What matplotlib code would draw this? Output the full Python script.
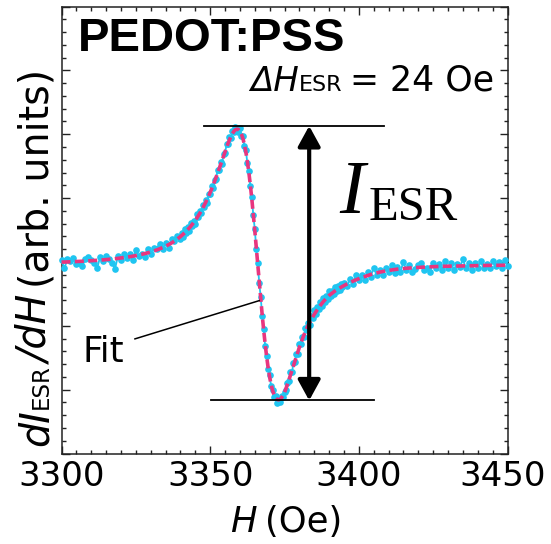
import numpy as np
import matplotlib
matplotlib.use("Agg")
import matplotlib.pyplot as plt
from matplotlib.ticker import MultipleLocator
from matplotlib.transforms import IdentityTransform, ScaledTranslation

W, H = 551, 544

# ---------------- data ----------------
field_left = np.arange(3300, 3341, 1.0)          # 41 points
field_mid = np.arange(3340.5, 3395.01, 0.5)      # 110 points
field_right = np.arange(3396, 3451, 1.0)         # 55 points
field = np.concatenate([field_left, field_mid, field_right])

signal_left = [0.03, -0.10, 0.05, 0.01, 0.06, -0.04, -0.02, -0.07, 0.05, 0.08,
               0.03, -0.02, -0.10, 0.08, 0.02, 0.10, 0.05, -0.01, -0.11, 0.10,
               0.03, 0.13, 0.06, 0.13, 0.03, 0.18, 0.09, 0.12, 0.08, 0.20,
               0.13, 0.22, 0.21, 0.28, 0.21, 0.29, 0.22, 0.36, 0.32, 0.41,
               0.36]
signal_mid = [0.45, 0.39, 0.52, 0.46, 0.55, 0.49, 0.61, 0.56, 0.64, 0.60,
              0.75, 0.70, 0.79, 0.76, 0.89, 0.86, 0.97, 0.93, 1.06, 1.07,
              1.19, 1.16, 1.29, 1.30, 1.44, 1.44, 1.56, 1.54, 1.69, 1.70,
              1.84, 1.84, 1.95, 1.94, 2.05, 2.03, 2.12, 2.10, 2.04, 2.09,
              1.97, 1.97, 1.82, 1.75, 1.55, 1.43, 1.19, 1.02, 0.73, 0.52,
              0.20, -0.02, -0.33, -0.55, -0.85, -1.05, -1.32, -1.47, -1.68, -1.77,
              -1.95, -2.00, -2.12, -2.10, -2.21, -2.14, -2.19, -2.10, -2.12, -2.03,
              -2.01, -1.89, -1.87, -1.73, -1.73, -1.59, -1.57, -1.44, -1.44, -1.29,
              -1.29, -1.17, -1.18, -1.04, -1.06, -0.95, -0.99, -0.85, -0.88, -0.76,
              -0.81, -0.71, -0.74, -0.63, -0.69, -0.57, -0.62, -0.53, -0.58, -0.46,
              -0.53, -0.45, -0.51, -0.39, -0.46, -0.37, -0.44, -0.34, -0.40, -0.33]
signal_right = [-0.38, -0.27, -0.34, -0.21, -0.28, -0.20, -0.28, -0.15, -0.23, -0.09,
                -0.21, -0.13, -0.21, -0.09, -0.15, -0.05, -0.17, -0.08, -0.15, 0.00,
                -0.13, -0.05, -0.15, -0.11, -0.05, -0.01, -0.13, -0.09, -0.15, -0.01,
                -0.09, -0.03, -0.12, 0.01, -0.10, -0.02, -0.12, -0.03, -0.08, 0.04,
                -0.10, -0.01, -0.12, -0.02, -0.09, 0.01, -0.10, -0.04, -0.10, 0.01,
                -0.07, 0.00, -0.09, 0.03, -0.06]
signal = np.array(signal_left + signal_mid + signal_right)

fit_left = [-0.003, -0.002, 0.000, 0.002, 0.004, 0.006, 0.008, 0.011, 0.013, 0.016,
            0.019, 0.022, 0.025, 0.029, 0.032, 0.036, 0.041, 0.045, 0.050, 0.056,
            0.062, 0.068, 0.075, 0.082, 0.090, 0.099, 0.108, 0.119, 0.130, 0.142,
            0.156, 0.171, 0.187, 0.205, 0.225, 0.246, 0.270, 0.297, 0.327, 0.360,
            0.396]
fit_mid = [0.416, 0.437, 0.459, 0.482, 0.507, 0.533, 0.560, 0.589, 0.620, 0.652,
           0.686, 0.722, 0.760, 0.800, 0.843, 0.887, 0.934, 0.983, 1.034, 1.088,
           1.144, 1.203, 1.263, 1.326, 1.391, 1.457, 1.524, 1.592, 1.660, 1.727,
           1.792, 1.855, 1.913, 1.965, 2.010, 2.046, 2.070, 2.080, 2.074, 2.049,
           2.003, 1.935, 1.841, 1.723, 1.577, 1.406, 1.209, 0.990, 0.751, 0.497,
           0.231, -0.040, -0.311, -0.577, -0.831, -1.070, -1.289, -1.486, -1.657, -1.803,
           -1.921, -2.015, -2.083, -2.129, -2.154, -2.160, -2.150, -2.126, -2.090, -2.045,
           -1.983, -1.916, -1.845, -1.772, -1.697, -1.623, -1.549, -1.477, -1.407, -1.338,
           -1.271, -1.208, -1.147, -1.089, -1.039, -0.991, -0.946, -0.902, -0.861, -0.821,
           -0.784, -0.749, -0.715, -0.684, -0.654, -0.625, -0.598, -0.573, -0.549, -0.525,
           -0.507, -0.488, -0.471, -0.454, -0.438, -0.423, -0.409, -0.396, -0.383, -0.371]
fit_right = [-0.345, -0.322, -0.301, -0.281, -0.262, -0.244, -0.228, -0.212, -0.197, -0.184,
             -0.172, -0.160, -0.150, -0.141, -0.133, -0.126, -0.119, -0.113, -0.108, -0.103,
             -0.099, -0.095, -0.092, -0.089, -0.086, -0.083, -0.080, -0.078, -0.076, -0.074,
             -0.072, -0.070, -0.069, -0.068, -0.066, -0.065, -0.064, -0.063, -0.062, -0.061,
             -0.060, -0.059, -0.058, -0.058, -0.057, -0.056, -0.056, -0.055, -0.054, -0.054,
             -0.053, -0.053, -0.052, -0.052, -0.051]
fit = np.array(fit_left + fit_mid + fit_right)

x_ticks = [3300, 3350, 3400, 3450]
peak_level = 2.13
trough_level = -2.17
arrow_field = 3383.3

CYAN = "#1fc5f1"
PINK = "#e8367f"
SANS = "DejaVu Sans"

# ---------------- figure ----------------
fig = plt.figure(figsize=(W / 100, H / 100), dpi=100)
ax = fig.add_axes([61.5 / W, 90.5 / H, 446 / W, 447 / H])

ax.plot(field, signal, color=CYAN, lw=1.3, marker="o", ms=4.8, mew=0,
        zorder=3, clip_on=False)
ax.plot(field, fit, color=PINK, lw=2.6, ls=(0, (2.5, 1.2)), zorder=4, clip_on=False)

ax.set_xlim(3300, 3450)
ax.set_ylim(-3, 4)
ax.set_xticks(x_ticks)
ax.xaxis.set_minor_locator(MultipleLocator(5))
ax.yaxis.set_major_locator(MultipleLocator(1))
ax.yaxis.set_minor_locator(MultipleLocator(0.2))
ax.tick_params(which="both", direction="in", top=True, right=True,
               width=1.0, color="#222222", labelleft=False)
ax.tick_params(which="major", length=6)
ax.tick_params(which="minor", length=3)
ax.tick_params(axis="x", which="major", labelsize=24.5, pad=5)
for lab in ax.get_xticklabels():
    lab.set_family(SANS)
# the last label sits slightly inward, as in the reference
last = ax.get_xticklabels()[-1]
last.set_transform(last.get_transform() + ScaledTranslation(-5 / 100, 0, fig.dpi_scale_trans))
for sp in ax.spines.values():
    sp.set_linewidth(1.1)
    sp.set_color("#222222")

# reference lines and arrow
ax.plot([3347.9, 3408.3], [peak_level, peak_level], color="k", lw=1.3, zorder=5)
ax.plot([3350.2, 3405.1], [trough_level, trough_level], color="k", lw=1.3, zorder=5)
ax.annotate("", xy=(arrow_field, peak_level), xytext=(arrow_field, trough_level),
            arrowprops=dict(arrowstyle="<|-|>,head_length=0.62,head_width=0.34",
                            mutation_scale=20, lw=3, color="k",
                            shrinkA=0, shrinkB=0), zorder=6)
# Fit pointer line
ax.plot([3324.7, 3366.5], [-1.205, -0.606], color="k", lw=1.1, zorder=5)

renderer = fig.canvas.get_renderer()


def rich(x, y, pieces, rotation=0, center=False):
    """pieces: (text, size, style, family, weight, dy_px, gap_px) ; x,y image px of baseline start"""
    texts = []
    offs = []
    pos = 0.0
    for s, size, style, family, weight, dy, gap in pieces:
        t = fig.text(0, 0, s, transform=IdentityTransform(), fontsize=size,
                     style=style, family=family, weight=weight,
                     ha="left", va="baseline", rotation=rotation,
                     rotation_mode="anchor")
        ext = t.get_window_extent(renderer)
        length = ext.width if rotation == 0 else ext.height
        texts.append((t, dy))
        offs.append(pos)
        pos += length + gap
    start = -pos / 2 if center else 0.0
    for (t, dy), o in zip(texts, offs):
        if rotation == 0:
            t.set_position((x + start + o, H - y + dy))
        else:
            t.set_position((x - dy, H - y + start + o))
    return texts


# title
fig.text(78 / W, 1 - 50.7 / H, "PEDOT:PSS", fontsize=34, weight="bold",
         family="Liberation Sans", ha="left", va="baseline")

# Delta H label
rich(250, 90.7, [("ΔH", 24.5, "italic", SANS, "normal", 0, 0),
                 ("ESR", 16, "normal", SANS, "normal", 0, 8),
                 ("= 24 Oe", 25, "normal", SANS, "normal", 0, 0)])

# I_ESR
rich(339, 213, [("I", 55, "italic", "Liberation Serif", "normal", 0, 4),
                ("ESR", 35, "normal", "Liberation Serif", "normal", -7, 0)])

# Fit label
rich(82, 362, [("Fit", 25.5, "normal", SANS, "normal", 0, 0)])

# x label
rich(286, 532, [("H", 25.5, "italic", SANS, "normal", 0, 8),
                ("(Oe)", 25.5, "normal", SANS, "normal", 0, 0)], center=True)

# y label
rich(48, 257, [("dI", 28.5, "italic", SANS, "normal", 0, 0),
               ("ESR", 16.5, "normal", SANS, "normal", 0, 0),
               ("/dH", 28.5, "italic", SANS, "normal", 0, 8),
               ("(arb. units)", 28.5, "normal", SANS, "normal", 0, 0)],
     rotation=90, center=True)

fig.savefig("out.png", dpi=100)
